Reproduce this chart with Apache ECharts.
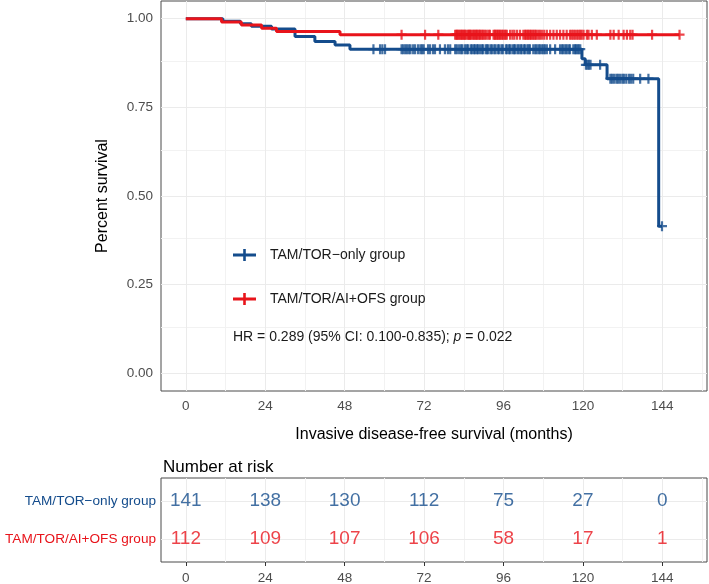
<!DOCTYPE html>
<html><head><meta charset="utf-8">
<script src="https://cdn.jsdelivr.net/npm/echarts@6/dist/echarts.min.js"></script>
<style>html,body{margin:0;padding:0;background:#fff}#c{width:709px;height:584px}</style>
</head><body><div id="c"></div>
<script>
// ---- data ----
const groups = ['TAM/TOR\u2212only group', 'TAM/TOR/AI+OFS group'];
const xTicks = [0, 24, 48, 72, 96, 120, 144];
const xMinor = [12, 36, 60, 84, 108, 132, 156];
const yTicks = [0, 0.25, 0.5, 0.75, 1];
const yMinor = [0.125, 0.375, 0.625, 0.875];

// Kaplan-Meier steps (time, survival after the step)
const blueTimes = [0, 11.2, 16.5, 19.8, 25.9, 33.0, 39.0, 45.1, 49.6, 119.7, 120.7, 127.3, 142.9];
const blueSurv  = [1, 0.993, 0.986, 0.979, 0.971, 0.950, 0.936, 0.926, 0.914, 0.887, 0.870, 0.831, 0.415];
const redTimes  = [0, 10.8, 16.8, 22.9, 27.4, 46.6];
const redSurv   = [1, 0.991, 0.982, 0.973, 0.964, 0.955];

// censoring times (months)
const blueCensor = [56.7, 58.7, 59.4, 60.2, 65.2, 65.7, 66.3, 66.8, 67.4, 67.9, 68.7, 69.3, 70.2, 70.9, 71.4, 71.9,
  73.2, 73.8, 74.7, 75.3, 76.8, 78.3, 79.2, 79.9, 81.4, 81.9, 82.6, 83.2, 83.6, 84.4, 84.9, 85.3, 86.1, 86.5, 87.1, 87.4,
  88.0, 88.3, 88.9, 89.5, 89.8, 90.6, 91.0, 91.4, 92.1, 92.5, 93.2, 93.6, 94.3, 94.7, 95.4, 95.8,
  96.7, 97.1, 97.7, 98.0, 98.7, 99.2, 99.5, 100.2, 100.6, 101.2, 101.5, 102.2, 102.5, 103.2, 103.6, 104.0,
  105.0, 105.6, 106.0, 106.6, 107.0, 107.6, 108.1, 108.5, 109.1, 110.1, 111.6, 113.1, 113.7, 114.1, 114.7, 115.1,
  115.7, 116.1, 117.1, 117.6, 117.9, 118.4, 118.7, 119.2,
  120.9, 121.4, 121.8, 122.3, 125.2,
  128.3, 128.8, 129.4, 130.1, 130.6, 131.2, 131.9, 132.4, 133.1, 133.9, 134.5, 135.2, 137.3, 139.8, 143.9];
const redCensor = [65.2, 72.3, 76.3,
  81.4, 81.8, 82.0, 82.4, 82.7, 83.1, 83.4, 83.7, 84.1, 84.4, 84.8, 85.3, 85.6, 85.9, 86.2, 86.7, 87.0, 87.4,
  87.8, 88.0, 88.5, 88.8, 89.1, 89.6, 89.9, 90.4, 90.9, 91.5, 91.9, 93.0, 93.4, 93.6, 94.1, 94.3, 94.8, 95.0, 95.5, 95.8,
  96.3, 96.6, 97.0, 98.0, 98.7, 99.3, 100.1, 101.0, 102.0, 102.5, 102.8, 103.3, 103.5, 104.0, 104.3, 104.8, 105.1, 105.6,
  105.9, 106.5, 107.0, 107.6, 108.3, 109.1, 110.1, 111.1, 112.1, 113.1, 114.1, 115.1, 116.1, 116.6, 117.1, 117.6,
  118.2, 118.7, 119.2, 119.6,
  120.2, 121.2, 121.7, 122.7, 124.2, 128.3, 129.3, 130.8, 132.3, 133.3, 134.3, 135.0, 140.9, 149.2];

const riskTimes = [0, 24, 48, 72, 96, 120, 144];
const blueRisk = [141, 138, 130, 112, 75, 27, 0];
const redRisk  = [112, 109, 107, 106, 58, 17, 1];

// ---- helpers ----
const BLUE = '#144C8C', RED = '#E8141B';
const FONT = '"Liberation Sans", Arial, Helvetica, sans-serif';
function survAt(times, surv, t) {
  let s = surv[0];
  for (let i = 0; i < times.length; i++) if (times[i] <= t) s = surv[i];
  return s;
}
function stepData(times, surv, censor) {
  const d = times.map((t, i) => [t, surv[i]]);
  const last = censor[censor.length - 1];
  d.push([last, survAt(times, surv, last)]);
  return d;
}
const plusPath = 'path://M3.9,0H6.1V10H3.9Z M0,3.9H10V6.1H0Z';
const legendIcon = 'path://M0,4.5H23V7.5H0Z M10.2,0H12.8V12H10.2Z';

function gridLines(xs, xsMinor, ys, ysMinor) {
  const major = {color: '#EBEBEB', width: 1, type: 'solid'};
  const minor = {color: '#F2F2F2', width: 1, type: 'solid'};
  const d = [];
  xsMinor.forEach(v => d.push({xAxis: v, lineStyle: minor}));
  (ysMinor || []).forEach(v => d.push({yAxis: v, lineStyle: minor}));
  xs.forEach(v => d.push({xAxis: v, lineStyle: major}));
  ys.forEach(v => d.push({yAxis: v, lineStyle: major}));
  return d;
}

const chart = echarts.init(document.getElementById('c'), null, {renderer: 'canvas'});
const axisLabelStyle = {color: '#4D4D4D', fontSize: 13.5, fontFamily: FONT};
const tickStyle = {show: true, length: 4, lineStyle: {color: '#333333', width: 1}};

chart.setOption({
  animation: false,
  backgroundColor: '#ffffff',
  textStyle: {fontFamily: FONT},
  grid: [
    {left: 161, right: 2, top: 1, bottom: 193, show: true, borderColor: '#4a4a4a', borderWidth: 1, backgroundColor: '#fff',
     containLabel: false, outerBoundsMode: 'none'},
    {left: 161, right: 2, top: 478, bottom: 22, show: true, borderColor: '#4a4a4a', borderWidth: 1, backgroundColor: '#fff',
     containLabel: false, outerBoundsMode: 'none'}
  ],
  xAxis: [
    {type: 'value', gridIndex: 0, min: -7.5, max: 157.5,
     axisLine: {show: false}, splitLine: {show: false},
     axisTick: Object.assign({customValues: xTicks}, tickStyle),
     axisLabel: Object.assign({customValues: xTicks, margin: 8}, axisLabelStyle),
     name: 'Invasive disease-free survival (months)', nameLocation: 'middle', nameGap: 36,
     nameTextStyle: {color: '#000', fontSize: 16, fontFamily: FONT}},
    {type: 'value', gridIndex: 1, min: -7.5, max: 157.5,
     axisLine: {show: false}, splitLine: {show: false},
     axisTick: Object.assign({customValues: xTicks}, tickStyle),
     axisLabel: Object.assign({customValues: xTicks, margin: 9}, axisLabelStyle)}
  ],
  yAxis: [
    {type: 'value', gridIndex: 0, min: -0.05, max: 1.05,
     axisLine: {show: false}, splitLine: {show: false},
     axisTick: Object.assign({customValues: yTicks}, tickStyle),
     axisLabel: Object.assign({customValues: yTicks, margin: 8, formatter: v => v.toFixed(2)}, axisLabelStyle),
     name: 'Percent survival', nameLocation: 'middle', nameGap: 50,
     nameTextStyle: {color: '#000', fontSize: 16, fontFamily: FONT}},
    {type: 'value', gridIndex: 1, min: 0.4, max: 2.6, inverse: true,
     axisLine: {show: false}, splitLine: {show: false},
     axisTick: Object.assign({customValues: [1, 2]}, tickStyle),
     axisLabel: {customValues: [1, 2], margin: 5, fontSize: 13.6, fontFamily: FONT,
       formatter: v => '{g' + v + '|' + groups[v - 1] + '}',
       rich: {g1: {color: BLUE, fontSize: 13.6, fontFamily: FONT}, g2: {color: RED, fontSize: 13.6, fontFamily: FONT}}}}
  ],
  legend: {
    data: groups, orient: 'vertical', left: 233, top: 248, itemGap: 30, z: 10,
    itemWidth: 23, itemHeight: 12, icon: legendIcon, padding: 0,
    textStyle: {fontSize: 14, color: '#1a1a1a', fontFamily: FONT, padding: [0, 0, 0, 9]},
    selectedMode: false
  },
  graphic: [
    {type: 'text', left: 233, top: 330, z: 10,
     style: {text: '{a|HR = 0.289 (95% CI: 0.100-0.835); }{i|p}{a| = 0.022}',
       rich: {a: {fontSize: 14, fontFamily: FONT, fill: '#1a1a1a'}, i: {fontSize: 14, fontFamily: FONT, fontStyle: 'italic', fill: '#1a1a1a'}}}},
    {type: 'text', left: 163, top: 459,
     style: {text: 'Number at risk', fontSize: 17, fontFamily: FONT, fill: '#000'}}
  ],
  series: [
    {type: 'line', xAxisIndex: 0, yAxisIndex: 0, data: [], z: 1, silent: true,
     markLine: {z: 1, silent: true, symbol: ['none', 'none'], label: {show: false}, animation: false,
       data: gridLines(xTicks, xMinor, yTicks, yMinor)}},
    {type: 'line', xAxisIndex: 1, yAxisIndex: 1, data: [], z: 1, silent: true,
     markLine: {z: 1, silent: true, symbol: ['none', 'none'], label: {show: false}, animation: false,
       data: gridLines(xTicks, xMinor, [1, 2], [])}},
    {name: groups[0], type: 'line', step: 'end', xAxisIndex: 0, yAxisIndex: 0, z: 3,
     data: stepData(blueTimes, blueSurv, blueCensor), showSymbol: false, symbol: 'none',
     lineStyle: {color: BLUE, width: 3}, itemStyle: {color: BLUE}},
    {type: 'scatter', xAxisIndex: 0, yAxisIndex: 0, z: 4, symbol: plusPath, symbolSize: 10,
     data: blueCensor.map(t => [t, survAt(blueTimes, blueSurv, t)]), itemStyle: {color: BLUE}},
    {name: groups[1], type: 'line', step: 'end', xAxisIndex: 0, yAxisIndex: 0, z: 5,
     data: stepData(redTimes, redSurv, redCensor), showSymbol: false, symbol: 'none',
     lineStyle: {color: RED, width: 3}, itemStyle: {color: RED}},
    {type: 'scatter', xAxisIndex: 0, yAxisIndex: 0, z: 6, symbol: plusPath, symbolSize: 10,
     data: redCensor.map(t => [t, survAt(redTimes, redSurv, t)]), itemStyle: {color: RED}},
    {type: 'scatter', xAxisIndex: 1, yAxisIndex: 1, z: 5, symbolSize: 1, itemStyle: {color: 'rgba(0,0,0,0)'},
     data: riskTimes.map((t, i) => [t, 1, blueRisk[i]]),
     label: {show: true, position: 'inside', formatter: p => p.value[2], color: BLUE, fontSize: 19, fontFamily: FONT}},
    {type: 'scatter', xAxisIndex: 1, yAxisIndex: 1, z: 5, symbolSize: 1, itemStyle: {color: 'rgba(0,0,0,0)'},
     data: riskTimes.map((t, i) => [t, 2, redRisk[i]]),
     label: {show: true, position: 'inside', formatter: p => p.value[2], color: RED, fontSize: 19, fontFamily: FONT}}
  ]
});
</script>
</body></html>
